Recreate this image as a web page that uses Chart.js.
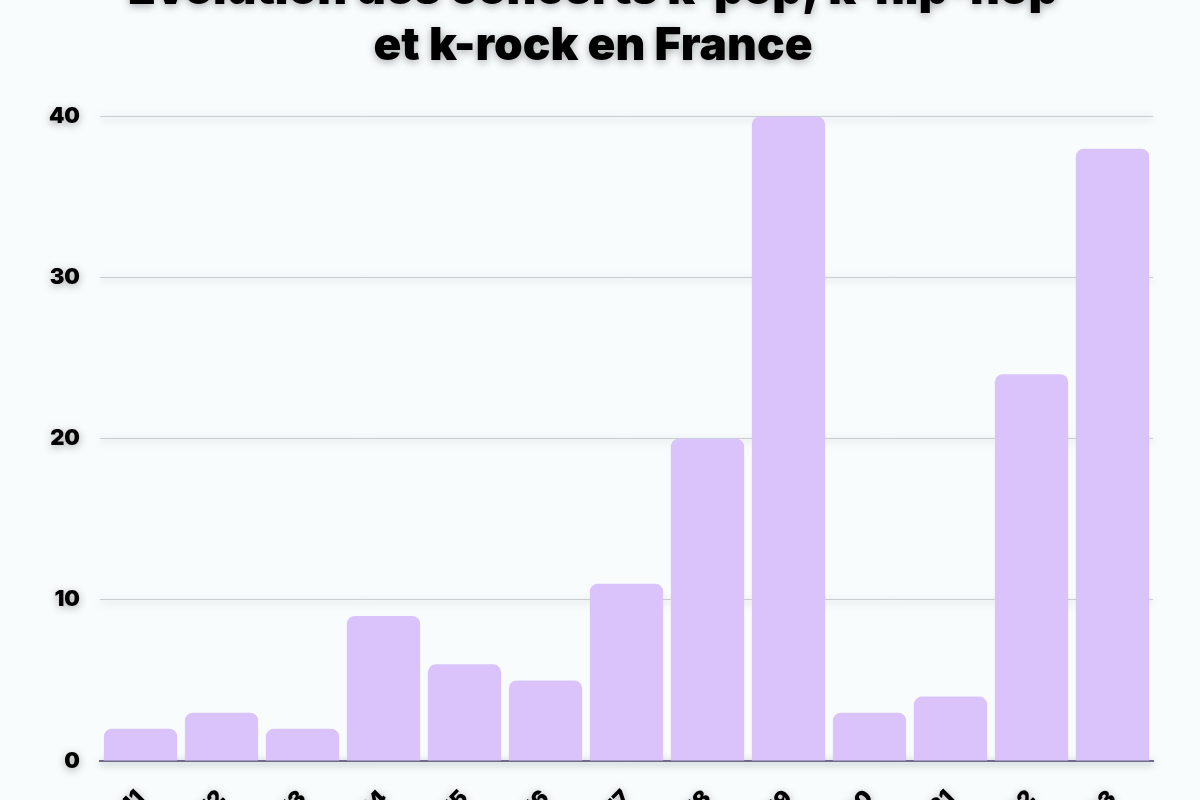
<!DOCTYPE html>
<html>
<head>
<meta charset="utf-8">
<script src="https://cdn.jsdelivr.net/npm/chart.js@4/dist/chart.umd.min.js"></script>
<style>
    html, body { margin: 0; padding: 0; background: #f8fcfc; overflow: hidden; }
    #wrap { position: absolute; left: 0; top: -45px; width: 1200px; height: 900px; }
</style>
</head>
<body>
<div id="wrap"><canvas id="myChart"></canvas></div>
<script>
const years = ['2011', '2012', '2013', '2014', '2015', '2016', '2017', '2018', '2019', '2020', '2021', '2022', '2023'];
const concerts = [2, 3, 2, 9, 6, 5, 11, 20, 40, 3, 4, 24, 38];
const yTicks = [0, 10, 20, 30, 40];
const titleLines = ['Évolution des concerts k-pop, k-hip-hop', 'et k-rock en France'];

const FONT = 'Inter, "DejaVu Sans", sans-serif';
const BAR_COLOR = '#d9c3fa';


// soft grey glow behind the title text
const titleShadow = {
    id: 'titleShadow',
    beforeDraw(chart) {
        chart.ctx.save();
        chart.ctx.shadowColor = 'rgba(0,0,0,0.35)';
        chart.ctx.shadowBlur = 8;
        chart.ctx.shadowOffsetY = 2;
    },
    afterDraw(chart) {
        chart.ctx.restore();
    },
    beforeDatasetsDraw(chart) {
        chart.ctx.shadowColor = 'transparent';
    }
};


function drawChart() {
    const ctx = document.getElementById('myChart').getContext('2d');
    new Chart(ctx, {
        type: 'bar',
        data: {
            labels: years,
            datasets: [{
                data: concerts,
                backgroundColor: BAR_COLOR,
                borderRadius: { topLeft: 8, topRight: 8 },
                borderSkipped: 'bottom',
                categoryPercentage: 1,
                barPercentage: 0.905
            }]
        },
        options: {
            responsive: false,
            animation: false,
            layout: { padding: { top: 8, right: 47, left: 33, bottom: 0 } },
            plugins: {
                legend: { display: false },
                tooltip: { enabled: false },
                title: {
                    display: true,
                    text: titleLines,
                    color: '#000',
                    font: { family: FONT, size: 46, weight: 900, lineHeight: 1.2 },
                    padding: { top: 0, bottom: 43 }
                }
            },
            scales: {
                x: {
                    grid: { display: false, drawTicks: false },
                    border: { display: true, color: '#6f6a8a', width: 2 },
                    ticks: {
                        color: '#000',
                        font: { family: FONT, size: 22, weight: 900 },
                        maxRotation: 45,
                        minRotation: 45,
                        padding: 24
                    },
                    afterFit(scale) { scale.height = 94; }
                },
                y: {
                    min: 0,
                    max: 40,
                    afterBuildTicks(scale) { scale.ticks = yTicks.map(v => ({ value: v })); },
                    grid: { color: '#c9cdd2', lineWidth: 1, drawTicks: false },
                    border: { display: false },
                    ticks: {
                        color: '#000',
                        font: { family: FONT, size: 22, weight: 900 },
                        padding: 20
                    },
                    afterFit(scale) { scale.width = 67; }
                }
            }
        },
        plugins: [titleShadow]
    });
}

const canvas = document.getElementById('myChart');
canvas.width = 1200;
canvas.height = 900;
drawChart();
</script>
</body>
</html>
